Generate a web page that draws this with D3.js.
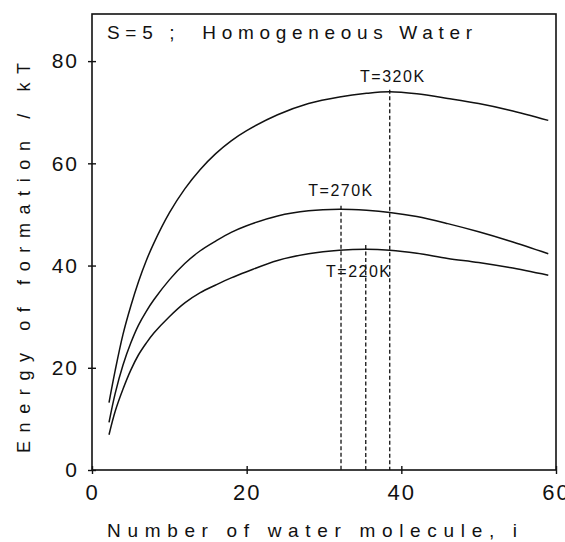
<!DOCTYPE html>
<html>
<head>
<meta charset="UTF-8">
<title>S=5 Homogeneous Water</title>
<script src="https://d3js.org/d3.v7.min.js"></script>
<style>
  body { margin: 0; background: #fff; }
  text { font-family: "Liberation Sans", Arial, sans-serif; fill: #111; }
</style>
</head>
<body>
<svg id="svg" width="565" height="542"></svg>
<script>
// cluster size i
var sizes = [2.2, 3, 4, 5, 6, 7, 8, 10, 12, 14, 16, 18, 20, 24, 28, 32, 35.5, 38.5, 42, 46, 50, 54, 59];
// energy of formation / kT
var t320 = [13.2, 19.5, 26.5, 32.0, 36.8, 40.9, 44.4, 50.3, 55.0, 58.8, 61.9, 64.4, 66.4, 69.5, 71.7, 73.0, 73.7, 74.0, 73.6, 72.7, 71.7, 70.4, 68.4];
var t270 = [9.3, 15.0, 20.5, 24.8, 28.3, 31.0, 33.3, 37.2, 40.4, 42.9, 44.8, 46.5, 47.8, 49.7, 50.7, 51.0, 50.8, 50.4, 49.6, 48.2, 46.6, 44.8, 42.3];
var t220 = [6.9, 11.5, 15.8, 19.5, 22.5, 24.8, 26.8, 30.0, 32.7, 34.7, 36.2, 37.6, 38.8, 41.0, 42.3, 43.0, 43.2, 43.0, 42.4, 41.4, 40.6, 39.6, 38.1];

// maxima marked with dashed drops
var peakI = [38.5, 32.2, 35.4];
var peakTop = [74.4, 51.7, 44.0];

var curveLabels = ["T=320K", "T=270K", "T=220K"];
var labelI = [38.9, 32.2, 34.5];
var labelE = [75.9, 53.6, 37.7];

var xTicks = [0, 20, 40, 60];
var yTicks = [0, 20, 40, 60, 80];

var svg = d3.select("#svg");
var plotLeft = 92, plotRight = 556, plotTop = 14, plotBottom = 470;

var x = d3.scaleLinear().domain([0, 60]).range([plotLeft, plotRight]);
var y = d3.scaleLinear().domain([0, 90]).range([plotBottom, plotTop - 4]);

// frame
svg.append("rect")
    .attr("x", plotLeft).attr("y", plotTop)
    .attr("width", plotRight - plotLeft).attr("height", plotBottom - plotTop)
    .attr("fill", "none").attr("stroke", "#111").attr("stroke-width", 1.6);

// y axis
var yAxis = svg.append("g")
    .attr("transform", "translate(" + plotLeft + ",0)")
    .call(d3.axisLeft(y).tickValues(yTicks).tickSizeInner(4).tickSizeOuter(0).tickPadding(9));
yAxis.select(".domain").remove();
yAxis.selectAll(".tick line").attr("x1", -4).attr("x2", 4).attr("stroke", "#111").attr("stroke-width", 1.4);
yAxis.selectAll(".tick text")
    .attr("font-size", 21).attr("letter-spacing", 2)
    .attr("font-family", "Liberation Sans, Arial, sans-serif").attr("fill", "#111");

// x axis
var xAxis = svg.append("g")
    .attr("transform", "translate(0," + plotBottom + ")")
    .call(d3.axisBottom(x).tickValues(xTicks).tickSizeInner(4).tickSizeOuter(0).tickPadding(10));
xAxis.select(".domain").remove();
xAxis.selectAll(".tick line").attr("y1", -4).attr("y2", 4).attr("stroke", "#111").attr("stroke-width", 1.4);
xAxis.selectAll(".tick text")
    .attr("font-size", 22).attr("letter-spacing", 2)
    .attr("font-family", "Liberation Sans, Arial, sans-serif").attr("fill", "#111");

// curves
var line = d3.line()
    .x(function (d) { return x(d[0]); })
    .y(function (d) { return y(d[1]); })
    .curve(d3.curveCatmullRom.alpha(0.5));

[t320, t270, t220].forEach(function (vals) {
    svg.append("path")
        .datum(sizes.map(function (s, k) { return [s, vals[k]]; }))
        .attr("d", line)
        .attr("fill", "none")
        .attr("stroke", "#111")
        .attr("stroke-width", 1.5);
});

// dashed drop lines at the maxima
peakI.forEach(function (p, k) {
    svg.append("line")
        .attr("x1", x(p)).attr("x2", x(p))
        .attr("y1", y(peakTop[k])).attr("y2", y(0))
        .attr("stroke", "#111").attr("stroke-width", 1.3)
        .attr("stroke-dasharray", "4,2.5");
});

// curve labels
curveLabels.forEach(function (t, k) {
    svg.append("text")
        .attr("x", x(labelI[k])).attr("y", y(labelE[k]))
        .attr("text-anchor", "middle")
        .attr("font-size", 16)
        .attr("letter-spacing", 1.5)
        .text(t);
});

// title
svg.append("text")
    .attr("x", 107).attr("y", 39)
    .attr("font-size", 19)
    .attr("textLength", 365).attr("lengthAdjust", "spacing")
    .style("white-space", "pre")
    .text("S=5 ;  Homogeneous Water");

// axis titles
svg.append("text")
    .attr("x", 107).attr("y", 537)
    .attr("font-size", 19)
    .attr("textLength", 410).attr("lengthAdjust", "spacing")
    .text("Number of water molecule, i");

svg.append("text")
    .attr("transform", "translate(30,453) rotate(-90)")
    .attr("font-size", 18)
    .attr("textLength", 390).attr("lengthAdjust", "spacing")
    .text("Energy of formation / kT");
</script>
</body>
</html>
